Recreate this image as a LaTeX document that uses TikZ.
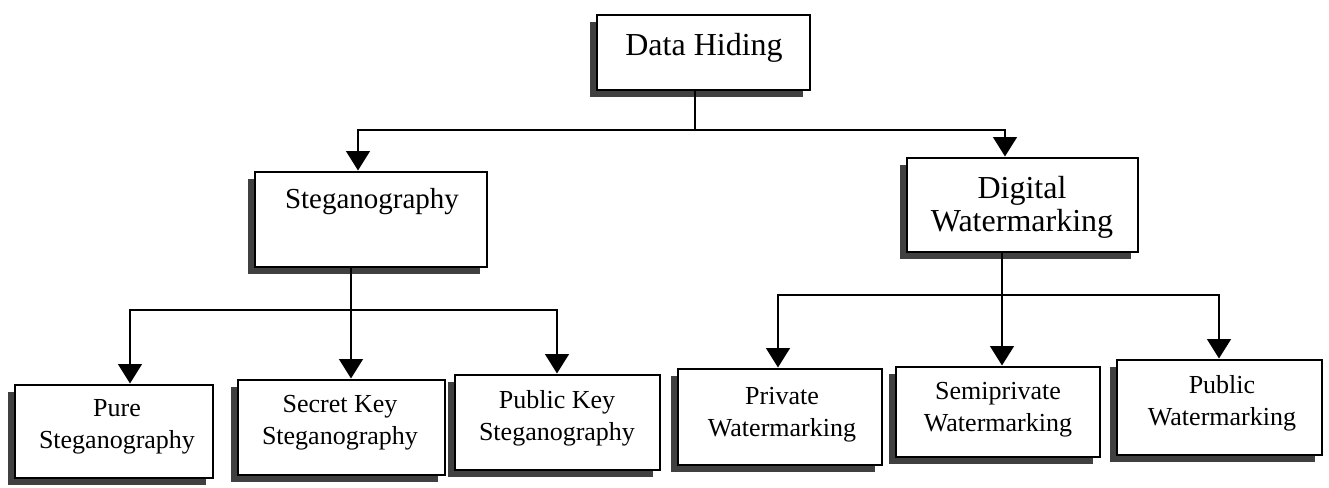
\documentclass[tikz,border=0pt]{standalone}
\usepackage{fontspec}
\setmainfont{Liberation Serif}
\usetikzlibrary{arrows.meta,shadows}
\begin{document}
\begin{tikzpicture}[x=0.75pt,y=-0.75pt,
  boxnode/.style={draw=black,line width=2.2pt,fill=white,rectangle,inner sep=0pt,
    drop shadow={shadow xshift=-5.25pt,shadow yshift=-5.25pt,fill=black!75,opacity=1}},
  conn/.style={line width=2.2pt},
  arr/.style={line width=2.2pt,-{Triangle[width=17.5pt,length=14.5pt]}},
  bigtxt/.style={anchor=base,inner sep=0pt,font=\fontsize{24}{25}\selectfont},
  midtxt/.style={anchor=base,inner sep=0pt,font=\fontsize{21.75}{25}\selectfont},
  smalltxt/.style={anchor=base,inner sep=0pt,font=\fontsize{19.5}{24}\selectfont}]
\fill[white] (0,0) rectangle (1329,487);
\useasboundingbox (0,0) rectangle (1329,487);

% boxes
\node[boxnode,minimum width=159.75pt,minimum height=56.25pt] (dh) at (703.5,52.5) {};
\node[boxnode,minimum width=174pt,minimum height=71.25pt] (steg) at (371,219.5) {};
\node[boxnode,minimum width=173.25pt,minimum height=70.5pt] (dw) at (1022.5,205) {};
\node[boxnode,minimum width=148.5pt,minimum height=69.75pt] (pure) at (114,431.5) {};
\node[boxnode,minimum width=155.25pt,minimum height=71.25pt] (secret) at (341.5,427.5) {};
\node[boxnode,minimum width=153.75pt,minimum height=71.25pt] (pubkey) at (557.5,422.5) {};
\node[boxnode,minimum width=153pt,minimum height=72pt] (private) at (780,417) {};
\node[boxnode,minimum width=153pt,minimum height=67.5pt] (semi) at (998,412) {};
\node[boxnode,minimum width=153.75pt,minimum height=71.25pt] (pubwm) at (1219.5,407.5) {};

% texts
\node[bigtxt] (dht) at (704,55) {Data Hiding};
\node[midtxt] (stegt) at (372,208) {Steganography};
\node[bigtxt] (dwt) at (1022,198) {\begin{tabular}[t]{@{}c@{}}Digital\\Watermarking\end{tabular}};
\node[smalltxt] (puret) at (117,416) {\begin{tabular}[t]{@{}c@{}}Pure\\Steganography\end{tabular}};
\node[smalltxt] (secrett) at (340,412) {\begin{tabular}[t]{@{}c@{}}Secret Key\\Steganography\end{tabular}};
\node[smalltxt] (pubkeyt) at (557,408) {\begin{tabular}[t]{@{}c@{}}Public Key\\Steganography\end{tabular}};
\node[smalltxt] (privatet) at (782,404) {\begin{tabular}[t]{@{}c@{}}Private\\Watermarking\end{tabular}};
\node[smalltxt] (semit) at (998,399) {\begin{tabular}[t]{@{}c@{}}Semiprivate\\Watermarking\end{tabular}};
\node[smalltxt] (pubwmt) at (1222,393) {\begin{tabular}[t]{@{}c@{}}Public\\Watermarking\end{tabular}};

% junctions
\coordinate (j0) at (695,130);
\coordinate (jl) at (358,130);
\coordinate (jr) at (1005,130);
\coordinate (s0) at (351,310);
\coordinate (sl) at (130,310);
\coordinate (sr) at (557,310);
\coordinate (w0) at (1002,295);
\coordinate (wl) at (778,295);
\coordinate (wr) at (1219,295);

% connectors
\draw[conn] (dh.south -| j0) -- (j0);
\draw[arr] (j0) -- (jl) -- (jl |- steg.north);
\draw[arr] (j0) -- (jr) -- (jr |- dw.north);

\draw[arr] (steg.south -| s0) -- (s0 |- secret.north);
\draw[arr] (s0) -- (sl) -- (sl |- pure.north);
\draw[arr] (s0) -- (sr) -- (sr |- pubkey.north);

\draw[arr] (dw.south -| w0) -- (w0 |- semi.north);
\draw[arr] (w0) -- (wl) -- (wl |- private.north);
\draw[arr] (w0) -- (wr) -- (wr |- pubwm.north);
\end{tikzpicture}
\end{document}
